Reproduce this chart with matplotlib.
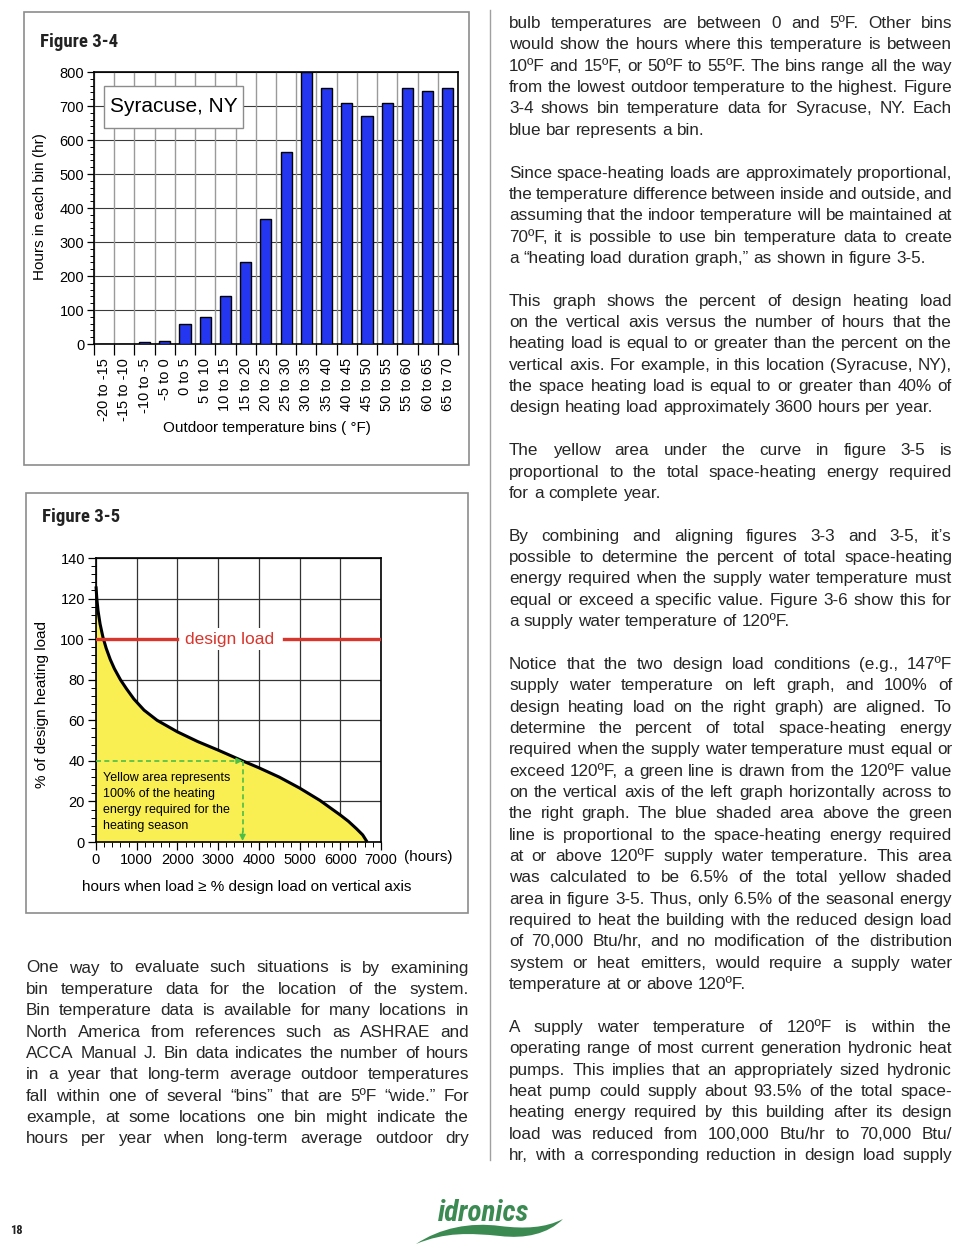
import matplotlib
matplotlib.use("Agg")
import matplotlib.pyplot as plt
import numpy as np
from matplotlib.font_manager import FontProperties
from matplotlib.patches import Rectangle, PathPatch
from matplotlib.path import Path
from matplotlib.ticker import MultipleLocator

# ---------------- data ----------------
bin_labels = ["-20 to -15", "-15 to -10", "-10 to -5", "-5 to 0", "0 to 5", "5 to 10",
              "10 to 15", "15 to 20", "20 to 25", "25 to 30", "30 to 35", "35 to 40",
              "40 to 45", "45 to 50", "50 to 55", "55 to 60", "60 to 65", "65 to 70"]
bin_hours = [1, 1, 7, 10, 58, 79, 141, 241, 369, 564, 800, 752, 708, 670, 709, 753, 743, 752]

load_hours = [0, 20, 50, 100, 170, 250, 350, 450, 600, 750, 930, 1180, 1500, 2000, 2500,
              3000, 3600, 4000, 4500, 5000, 5500, 6000, 6200, 6400, 6550, 6660]
load_pct = [126, 120, 114, 107.5, 101, 95.5, 90, 85.5, 80, 75.5, 70.5, 65, 60, 54.3, 49.5,
            45.3, 40, 36.6, 32, 26.6, 20.5, 13.3, 10.2, 6.5, 3.5, 0]

design_load_pct = 100
example_pct = 40
example_hours = 3600

left_text = [
    ["One way to evaluate such situations is by examining",
     "bin temperature data for the location of the system.",
     "Bin temperature data is available for many locations in",
     "North America from references such as ASHRAE and",
     "ACCA Manual J. Bin data indicates the number of hours",
     "in a year that long-term average outdoor temperatures",
     "fall within one of several \u201cbins\u201d that are 5\u00baF \u201cwide.\u201d For",
     "example, at some locations one bin might indicate the",
     "hours per year when long-term average outdoor dry"],
]
left_last_justified = [True]

right_text = [
    ["bulb temperatures are between 0 and 5\u00baF. Other bins",
     "would show the hours where this temperature is between",
     "10\u00baF and 15\u00baF, or 50\u00baF to 55\u00baF. The bins range all the way",
     "from the lowest outdoor temperature to the highest. Figure",
     "3-4 shows bin temperature data for Syracuse, NY. Each",
     "blue bar represents a bin."],
    ["Since space-heating loads are approximately proportional,",
     "the temperature difference between inside and outside, and",
     "assuming that the indoor temperature will be maintained at",
     "70\u00baF, it is possible to use bin temperature data to create",
     "a \u201cheating load duration graph,\u201d as shown in figure 3-5."],
    ["This graph shows the percent of design heating load",
     "on the vertical axis versus the number of hours that the",
     "heating load is equal to or greater than the percent on the",
     "vertical axis. For example, in this location (Syracuse, NY),",
     "the space heating load is equal to or greater than 40% of",
     "design heating load approximately 3600 hours per year."],
    ["The yellow area under the curve in figure 3-5 is",
     "proportional to the total space-heating energy required",
     "for a complete year."],
    ["By combining and aligning figures 3-3 and 3-5, it\u2019s",
     "possible to determine the percent of total space-heating",
     "energy required when the supply water temperature must",
     "equal or exceed a specific value. Figure 3-6 show this for",
     "a supply water temperature of 120\u00baF."],
    ["Notice that the two design load conditions (e.g., 147\u00baF",
     "supply water temperature on left graph, and 100% of",
     "design heating load on the right graph) are aligned. To",
     "determine the percent of total space-heating energy",
     "required when the supply water temperature must equal or",
     "exceed 120\u00baF, a green line is drawn from the 120\u00baF value",
     "on the vertical axis of the left graph horizontally across to",
     "the right graph. The blue shaded area above the green",
     "line is proportional to the space-heating energy required",
     "at or above 120\u00baF supply water temperature. This area",
     "was calculated to be 6.5% of the total yellow shaded",
     "area in figure 3-5. Thus, only 6.5% of the seasonal energy",
     "required to heat the building with the reduced design load",
     "of 70,000 Btu/hr, and no modification of the distribution",
     "system or heat emitters, would require a supply water",
     "temperature at or above 120\u00baF."],
    ["A supply water temperature of 120\u00baF is within the",
     "operating range of most current generation hydronic heat",
     "pumps. This implies that an appropriately sized hydronic",
     "heat pump could supply about 93.5% of the total space-",
     "heating energy required by this building after its design",
     "load was reduced from 100,000 Btu/hr to 70,000 Btu/",
     "hr, with a corresponding reduction in design load supply"],
]
right_last_justified = [False, False, False, False, False, False, True]

# ---------------- figure ----------------
W, H = 972, 1244
fig = plt.figure(figsize=(W / 100, H / 100), dpi=100)
fig.patch.set_facecolor("white")

bg = fig.add_axes([0, 0, 1, 1])
bg.set_xlim(0, W)
bg.set_ylim(H, 0)
bg.axis("off")

SANS = ["Liberation Sans", "DejaVu Sans"]
NARROW = ["Liberation Sans Narrow", "Roboto Condensed", "Liberation Sans", "DejaVu Sans"]
TXT = "#262626"

# frames and divider
bg.add_patch(Rectangle((24, 12), 445, 453, fill=False, ec="#8c8c8c", lw=1.2))
bg.add_patch(Rectangle((26, 493), 442, 420, fill=False, ec="#8c8c8c", lw=1.2))
bg.plot([490, 490], [10, 1160], color="#a0a0a0", lw=1.0)

bg.text(40, 42, "Figure 3-4", family=NARROW, weight="bold", fontsize=13.5,
        ha="left", va="center", color="#222")
bg.text(42, 517, "Figure 3-5", family=NARROW, weight="bold", fontsize=13.5,
        ha="left", va="center", color="#222")

# ---------------- Figure 3-4: bar chart ----------------
ax1 = fig.add_axes([94 / W, 1 - 344 / H, 364 / W, 272 / H])
xpos = np.arange(len(bin_hours))
edges = np.arange(len(bin_hours) + 1) - 0.5
ax1.set_axisbelow(True)
for e in edges:
    ax1.axvline(e, color="#9a9a9a", lw=1.0, zorder=1)
ax1.bar(xpos, bin_hours, width=0.55, color="#2436ef", edgecolor="black",
        linewidth=1.0, zorder=3)
ax1.set_xlim(-0.5, len(bin_hours) - 0.5)
ax1.set_ylim(0, 800)
ax1.yaxis.set_major_locator(MultipleLocator(100))
ax1.yaxis.set_minor_locator(MultipleLocator(20))
ax1.grid(axis="y", which="major", color="#3a3a3a", lw=0.8, zorder=1)
ax1.set_xticks(xpos)
ax1.set_xticklabels(bin_labels, rotation=90, family=SANS, fontsize=10.5)
ax1.set_xticks(edges, minor=True)
ax1.tick_params(axis="x", which="major", length=0, pad=10)
ax1.tick_params(axis="x", which="minor", length=8, width=0.9, direction="out")
ax1.tick_params(axis="y", which="major", length=5, width=0.9, pad=2, labelsize=10.5)
ax1.tick_params(axis="y", which="minor", length=3, width=0.7)
for lab in ax1.get_yticklabels():
    lab.set_family(SANS)
for sp in ax1.spines.values():
    sp.set_linewidth(1.2)
    sp.set_color("black")

ax1.add_patch(Rectangle(((104 - 94) / 364, (344 - 128) / 272), 139 / 364, 42 / 272,
                        transform=ax1.transAxes, facecolor="white", edgecolor="#8c8c8c",
                        lw=1.0, zorder=5))
ax1.text(((104 + 243) / 2 - 94) / 364, (344 - 107) / 272, "Syracuse, NY",
         transform=ax1.transAxes, ha="center", va="center", family=SANS,
         fontsize=15, color="black", zorder=6)

bg.text(40, 207, "Hours in each bin (hr)", rotation=90, ha="center", va="center",
        family=SANS, fontsize=11, color="black")
bg.text(267, 428, "Outdoor temperature bins ( \u00b0F)", ha="center", va="center",
        family=SANS, fontsize=11, color="black")

# ---------------- Figure 3-5: load duration ----------------
ax2 = fig.add_axes([96 / W, 1 - 842 / H, 285 / W, 284 / H])
ax2.set_xlim(0, 7000)
ax2.set_ylim(0, 140)
ax2.set_axisbelow(True)
ax2.xaxis.set_major_locator(MultipleLocator(1000))
ax2.xaxis.set_minor_locator(MultipleLocator(200))
ax2.yaxis.set_major_locator(MultipleLocator(20))
ax2.yaxis.set_minor_locator(MultipleLocator(4))
ax2.grid(which="major", color="#333333", lw=0.9, zorder=0)
ax2.fill_between(load_hours, load_pct, 0, color="#f9ef52", zorder=2, lw=0)
ax2.plot(load_hours, load_pct, color="black", lw=2.2, zorder=4,
         solid_capstyle="butt", solid_joinstyle="round", clip_on=False)

red = "#d8352c"
# white gap behind the "design load" label
ax2.add_patch(Rectangle((2040, 94.6), 2560, 10.9, facecolor="white", edgecolor="none",
                        zorder=3))
ax2.plot([0, 2000], [design_load_pct, design_load_pct], color=red, lw=2.4, zorder=5)
ax2.plot([4620, 7000], [design_load_pct, design_load_pct], color=red, lw=2.4, zorder=5)
ax2.text(3280, design_load_pct, "design load", color=red, ha="center", va="center",
         family=SANS, fontsize=12.5, zorder=6)

green = "#4bbf48"
ax2.plot([0, example_hours - 60], [example_pct, example_pct], color=green, lw=1.2,
         ls=(0, (3, 2)), zorder=5)
ax2.plot([example_hours, example_hours], [example_pct, 3], color=green, lw=1.2,
         ls=(0, (3, 2)), zorder=5)
ax2.annotate("", xy=(example_hours, example_pct), xytext=(example_hours - 150, example_pct),
             arrowprops=dict(arrowstyle="-|>", color=green, lw=1.0, mutation_scale=9,
                             shrinkA=0, shrinkB=0), zorder=6)
ax2.annotate("", xy=(example_hours, 0.5), xytext=(example_hours, 5),
             arrowprops=dict(arrowstyle="-|>", color=green, lw=1.0, mutation_scale=9,
                             shrinkA=0, shrinkB=0), zorder=6)

note_lines = ["Yellow area represents", "100% of the heating",
              "energy required for the", "heating season"]
for i, ln in enumerate(note_lines):
    ax2.text(170, 31.5 - i * 7.85, ln, ha="left", va="center", family=SANS,
             fontsize=9, color="black", zorder=6)

ax2.tick_params(axis="both", which="major", length=6, width=0.9, pad=2, labelsize=10.5)
ax2.tick_params(axis="both", which="minor", length=3.5, width=0.7)
for lab in ax2.get_xticklabels() + ax2.get_yticklabels():
    lab.set_family(SANS)
for sp in ax2.spines.values():
    sp.set_linewidth(1.2)
    sp.set_color("black")

bg.text(404, 857, "(hours)", ha="left", va="center", family=SANS, fontsize=11, color="black")
bg.text(42, 705, "% of design heating load", rotation=90, ha="center", va="center",
        family=SANS, fontsize=11, color="black")
bg.text(247, 887, "hours when load \u2265 % design load on vertical axis", ha="center",
        va="center", family=SANS, fontsize=11, color="black")

# ---------------- body text (justified) ----------------
fig.canvas.draw()
renderer = fig.canvas.get_renderer()


def width_of(s, fp):
    w, h, d = renderer.get_text_width_height_descent(s, fp, ismath=False)
    return w


def layout_lines(paragraphs, last_just):
    out = []
    for pi, para in enumerate(paragraphs):
        for li, ln in enumerate(para):
            just = (li < len(para) - 1) or last_just[pi]
            out.append((ln, just))
        out.append(None)
    return out[:-1]


left_slots = layout_lines(left_text, left_last_justified)
right_slots = layout_lines(right_text, right_last_justified)

# choose body font size so the tightest justified line fits
fs0 = 12.6
fp0 = FontProperties(family=SANS, size=fs0)
sp0 = width_of("n n", fp0) - width_of("nn", fp0)
ratio = 1.0
for slots, colw in ((left_slots, 442.0), (right_slots, 443.0)):
    for item in slots:
        if item is None or not item[1]:
            continue
        words = item[0].split(" ")
        need = sum(width_of(wd, fp0) for wd in words) + 0.75 * sp0 * (len(words) - 1)
        ratio = min(ratio, colw / need)
fs = fs0 * ratio
fp = FontProperties(family=SANS, size=fs)


def draw_column(slots, x0, x1, y_first, dy):
    spc = width_of("n n", fp) - width_of("nn", fp)
    for k, item in enumerate(slots):
        if item is None:
            continue
        y = y_first + k * dy
        text, just = item
        words = text.split(" ")
        ws = [width_of(wd, fp) for wd in words]
        if just and len(words) > 1:
            gap = (x1 - x0 - sum(ws)) / (len(words) - 1)
        else:
            gap = spc
        x = x0
        for wd, w in zip(words, ws):
            bg.text(x, y, wd, ha="left", va="baseline", fontproperties=fp, color=TXT)
            x += w + gap


draw_column(right_slots, 509, 952, 28.0, 21.36)
draw_column(left_slots, 26, 469, 972.5, 21.37)

# ---------------- footer ----------------
bg.text(10, 1230, "18", family=NARROW, weight="bold", fontsize=9, ha="left",
        va="center", color="#222")
logo_green = "#3a8a52"
verts = [(416, 1244), (440, 1228), (470, 1222), (500, 1226),
         (525, 1229), (545, 1228), (563, 1219),
         (548, 1234), (525, 1239), (500, 1236),
         (470, 1233), (445, 1232), (416, 1244), (416, 1244)]
codes = [Path.MOVETO, Path.CURVE4, Path.CURVE4, Path.CURVE4,
         Path.CURVE4, Path.CURVE4, Path.CURVE4,
         Path.CURVE4, Path.CURVE4, Path.CURVE4,
         Path.CURVE4, Path.CURVE4, Path.CURVE4, Path.CLOSEPOLY]
bg.add_patch(PathPatch(Path(verts, codes), facecolor=logo_green, edgecolor="none"))
bg.text(484, 1213, "idronics", family=NARROW, style="italic", weight="bold",
        fontsize=21, ha="center", va="center", color=logo_green)

fig.savefig("out.png", dpi=100, facecolor="white")
